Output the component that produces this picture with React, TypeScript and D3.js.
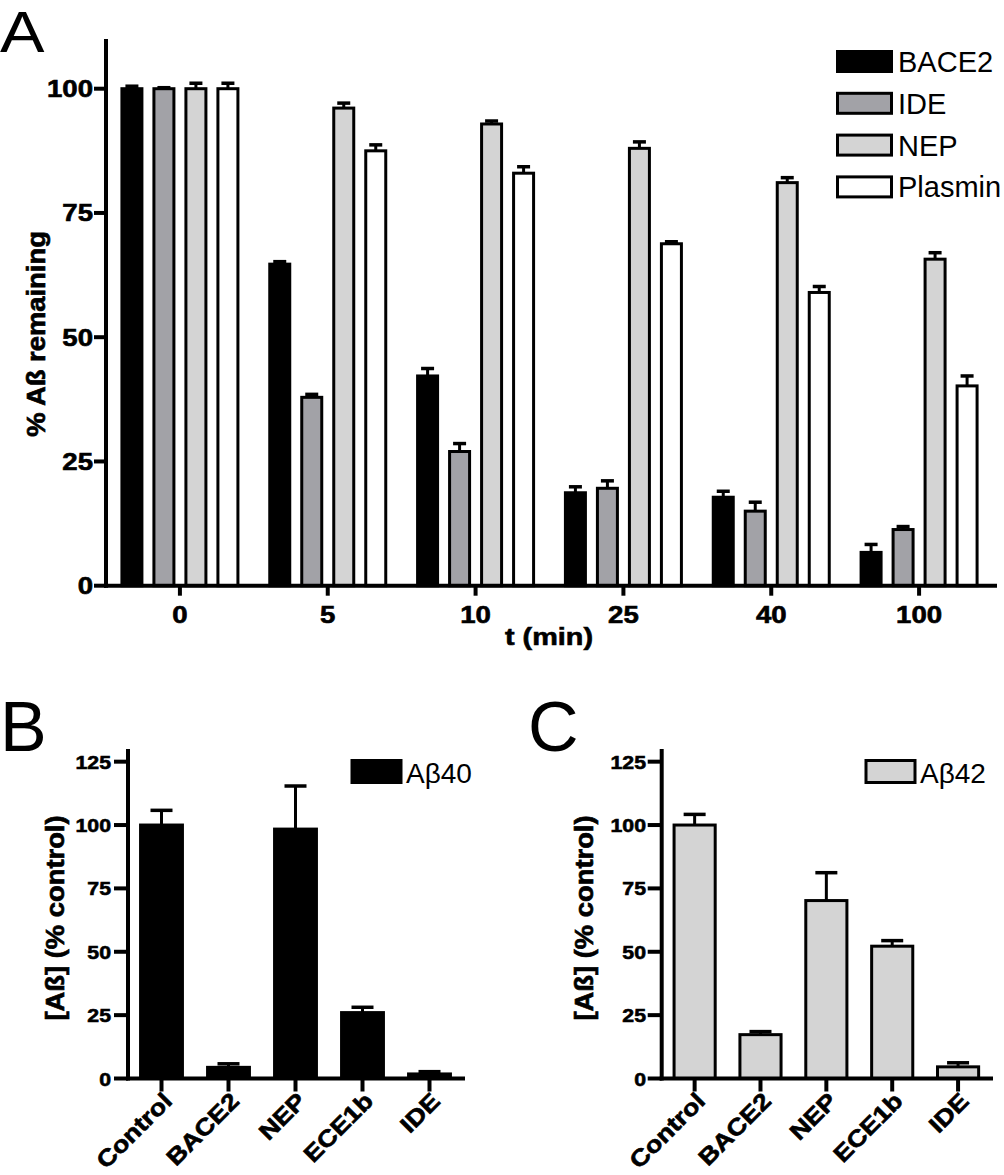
import React from "react";
import * as d3 from "d3";

// ---------- Panel A data ----------
const timeLabels = ["0", "5", "10", "25", "40", "100"];
const seriesNames = ["BACE2", "IDE", "NEP", "Plasmin"];
const bace2 = [100, 64.7, 42.2, 18.7, 17.8, 6.7];
const bace2Err = [0.5, 0.5, 1.5, 1.2, 1.2, 1.6];
const ide = [100, 37.9, 27.0, 19.6, 15.0, 11.3];
const ideErr = [0.2, 0.6, 1.6, 1.5, 1.8, 0.6];
const nep = [100, 96.1, 92.9, 88.0, 81.1, 65.7];
const nepErr = [1.1, 1.0, 0.6, 1.3, 1.0, 1.3];
const plasmin = [100, 87.5, 83.0, 68.8, 59.0, 40.2];
const plasminErr = [1.1, 1.2, 1.3, 0.4, 1.2, 2.0];
const seriesFill = ["#000000", "#a2a2a7", "#d4d4d4", "#ffffff"];
const ticksA = [0, 25, 50, 75, 100];

// ---------- Panels B / C data ----------
const enzymes = ["Control", "BACE2", "NEP", "ECE1b", "IDE"];
const ab40 = [100, 4.4, 98.4, 26.0, 1.8];
const ab40Err = [5.8, 1.4, 17.0, 2.1, 0.9];
const ab42 = [100, 17.3, 70.2, 52.2, 4.6];
const ab42Err = [4.2, 1.2, 11.0, 2.2, 1.6];
const ticksBC = [0, 25, 50, 75, 100, 125];

const FONT = "'Liberation Sans', Arial, Helvetica, sans-serif";

function T({ x, y, rot = 0, sx = 1, sy = 1, size, bold = false, anchor = "start", children }: any) {
  return (
    <text
      transform={`translate(${x},${y}) rotate(${rot}) scale(${sx},${sy})`}
      fontFamily={FONT}
      fontSize={size}
      fontWeight={bold ? "bold" : "normal"}
      textAnchor={anchor}
      fill="#000"
      stroke={bold ? "#000" : "none"}
      strokeWidth={bold ? 0.6 : 0}
    >
      {children}
    </text>
  );
}

function PanelA() {
  const x0 = d3.scaleBand<string>().domain(timeLabels).range([106, 993]).paddingInner(0).paddingOuter(0);
  const x1 = d3.scaleBand<string>().domain(seriesNames).range([-64, 64]).padding(0);
  const y = d3.scaleLinear().domain([0, 110]).range([585.7, 39]);
  const vals = [bace2, ide, nep, plasmin];
  const errs = [bace2Err, ideErr, nepErr, plasminErr];
  const bw = 20;
  const cap = 13;
  return (
    <g>
      <T x={0} y={52} size={58} sx={1.15}>A</T>
      {seriesNames.map((s, si) =>
        timeLabels.map((t, ti) => {
          const cx = (x0(t) as number) + x0.bandwidth() / 2 + (x1(s) as number) + x1.bandwidth() / 2;
          const v = vals[si][ti];
          const e = errs[si][ti];
          return (
            <g key={s + t}>
              <line x1={cx} x2={cx} y1={y(v)} y2={y(v + e)} stroke="#000" strokeWidth={3} />
              <line x1={cx - cap / 2} x2={cx + cap / 2} y1={y(v + e)} y2={y(v + e)} stroke="#000" strokeWidth={3.5} />
              <rect x={cx - bw / 2} y={y(v)} width={bw} height={y(0) - y(v)} fill={seriesFill[si]} stroke="#000" strokeWidth={3} />
            </g>
          );
        })
      )}
      {/* axes */}
      <line x1={106} x2={106} y1={y(110)} y2={y(0) + 2} stroke="#000" strokeWidth={4} />
      <line x1={104} x2={997} y1={y(0)} y2={y(0)} stroke="#000" strokeWidth={4} />
      {ticksA.map((tk) => (
        <g key={tk}>
          <line x1={94} x2={106} y1={y(tk)} y2={y(tk)} stroke="#000" strokeWidth={4} />
          <T x={93} y={y(tk) + 8.5} size={23} sx={1.2} bold anchor="end">{tk}</T>
        </g>
      ))}
      {timeLabels.map((t) => {
        const cx = (x0(t) as number) + x0.bandwidth() / 2;
        return (
          <g key={t}>
            <line x1={cx} x2={cx} y1={y(0)} y2={y(0) + 10} stroke="#000" strokeWidth={4} />
            <T x={cx} y={623} size={23} sx={1.2} bold anchor="middle">{t}</T>
          </g>
        );
      })}
      <T x={549} y={645} size={24} sx={1.2} bold anchor="middle">t (min)</T>
      <T x={45} y={334} rot={-90} size={23} sx={1.19} sy={1.12} bold anchor="middle">% Aß remaining</T>
      {/* legend */}
      {seriesNames.map((s, i) => {
        const cy = 61.5 + i * 41.8;
        return (
          <g key={s}>
            <rect x={837.5} y={cy - 10} width={54} height={20} fill={seriesFill[i]} stroke="#000" strokeWidth={3} />
            <T x={898} y={cy + 10.5} size={29}>{s}</T>
          </g>
        );
      })}
    </g>
  );
}

function PanelBC({ left, right, axisX, vals, errs, fill, legendText, letter, letterX, labelX, tickLabelX, legendX }: any) {
  const x = d3.scaleBand<string>().domain(enzymes).range([left, right]).paddingInner(0.33).paddingOuter(0.165);
  const y = d3.scaleLinear().domain([0, 130]).range([1078.5, 749]);
  const bw = x.bandwidth() - 3;
  const cap = 22;
  return (
    <g>
      <T x={letterX} y={751} size={70}>{letter}</T>
      {enzymes.map((en, i) => {
        const cx = (x(en) as number) + x.bandwidth() / 2;
        const v = vals[i];
        const e = errs[i];
        return (
          <g key={en}>
            <line x1={cx} x2={cx} y1={y(v)} y2={y(v + e)} stroke="#000" strokeWidth={3} />
            <line x1={cx - cap / 2} x2={cx + cap / 2} y1={y(v + e)} y2={y(v + e)} stroke="#000" strokeWidth={3.5} />
            <rect x={cx - bw / 2} y={y(v)} width={bw} height={y(0) - y(v)} fill={fill} stroke="#000" strokeWidth={3} />
          </g>
        );
      })}
      <line x1={axisX} x2={axisX} y1={y(130)} y2={y(0) + 2} stroke="#000" strokeWidth={4} />
      <line x1={axisX - 2} x2={right + 2} y1={y(0)} y2={y(0)} stroke="#000" strokeWidth={4} />
      {ticksBC.map((tk) => (
        <g key={tk}>
          <line x1={axisX - 14} x2={axisX} y1={y(tk)} y2={y(tk)} stroke="#000" strokeWidth={4} />
          <T x={tickLabelX} y={y(tk) + 7} size={19} sx={1.12} bold anchor="end">{tk}</T>
        </g>
      ))}
      {enzymes.map((en) => {
        const cx = (x(en) as number) + x.bandwidth() / 2;
        return (
          <g key={en}>
            <line x1={cx} x2={cx} y1={y(0)} y2={y(0) + 13} stroke="#000" strokeWidth={4} />
            <T x={cx + 12} y={y(0) + 24} rot={-45} size={21.5} sx={1.25} sy={1.08} bold anchor="end">{en}</T>
          </g>
        );
      })}
      <T x={labelX} y={918} rot={-90} size={23} sx={1.19} sy={1.1} bold anchor="middle">[Aß] (% control)</T>
      <rect x={legendX} y={760.5} width={49} height={22} fill={fill} stroke="#000" strokeWidth={3} />
      <T x={legendX + 54} y={783} size={28}>{legendText}</T>
    </g>
  );
}

export default function App() {
  return (
    <svg width={1004} height={1175} style={{ position: "absolute", left: 0, top: 0, background: "#fff" }}>
      <rect x={0} y={0} width={1004} height={1175} fill="#fff" />
      <PanelA />
      <PanelBC left={128} right={463} axisX={128} vals={ab40} errs={ab40Err} fill="#000000" legendText="Aβ40"
        letter="B" letterX={0} labelX={64} tickLabelX={111} legendX={352} />
      <PanelBC left={661.7} right={991} axisX={661.7} vals={ab42} errs={ab42Err} fill="#d4d4d4" legendText="Aβ42"
        letter="C" letterX={528} labelX={593} tickLabelX={646} legendX={866} />
    </svg>
  );
}
